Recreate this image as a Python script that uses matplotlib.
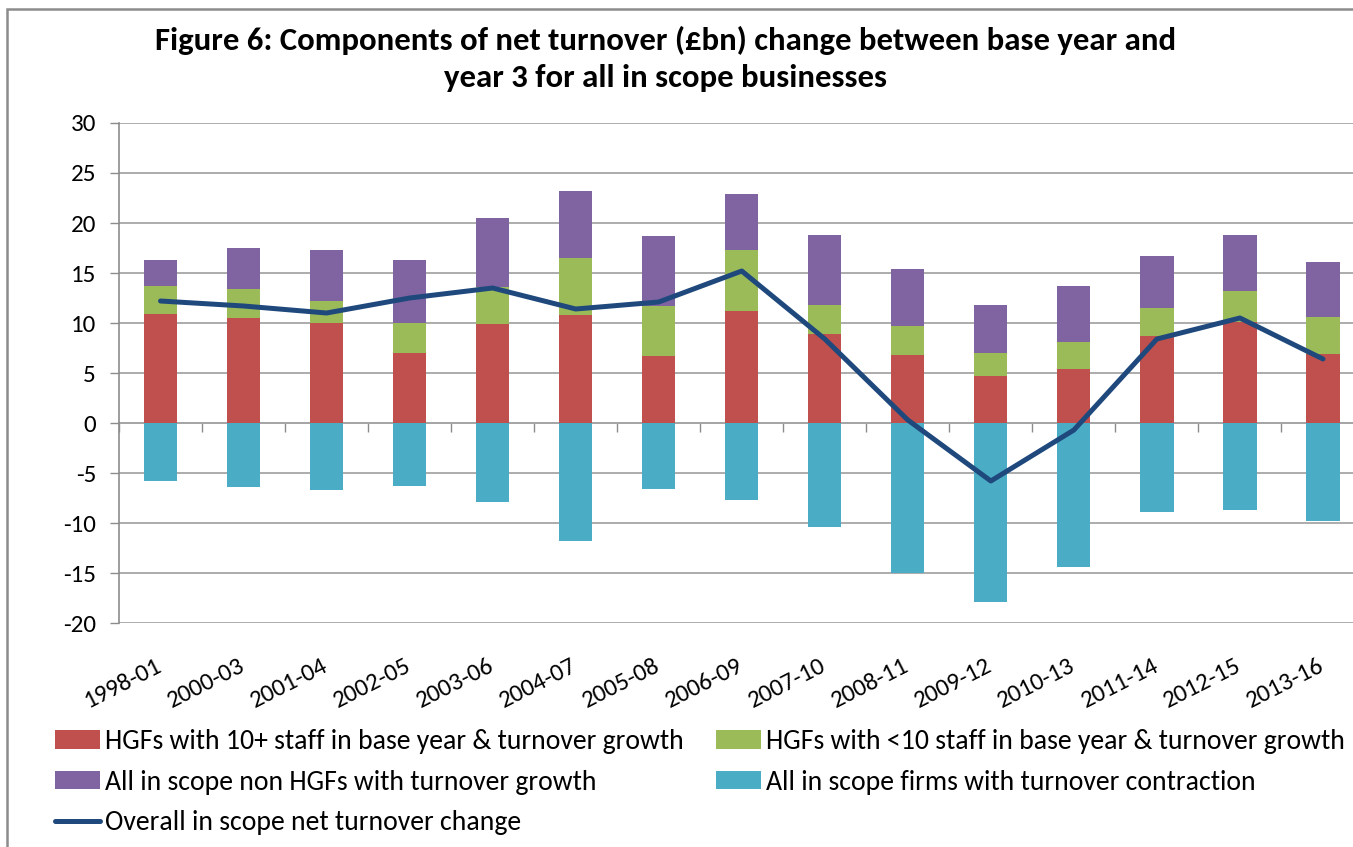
import matplotlib
matplotlib.use("Agg")
import matplotlib.pyplot as plt
from matplotlib.patches import Rectangle
import numpy as np

plt.rcParams['font.family'] = ['Carlito', 'Lato', 'DejaVu Sans']
plt.rcParams['axes.unicode_minus'] = False

periods = ["1998-01", "2000-03", "2001-04", "2002-05", "2003-06", "2004-07", "2005-08",
           "2006-09", "2007-10", "2008-11", "2009-12", "2010-13", "2011-14", "2012-15", "2013-16"]

# £bn
hgf_10plus = [10.9, 10.5, 10.0, 7.0, 9.9, 10.8, 6.7, 11.2, 8.9, 6.8, 4.7, 5.4, 8.7, 10.1, 6.9]
hgf_under10 = [2.8, 2.9, 2.2, 3.0, 3.7, 5.7, 5.0, 6.1, 2.9, 2.9, 2.3, 2.7, 2.8, 3.1, 3.7]
non_hgf_growth = [2.6, 4.1, 5.1, 6.3, 6.9, 6.7, 7.0, 5.6, 7.0, 5.7, 4.8, 5.6, 5.2, 5.6, 5.5]
contraction = [-5.8, -6.4, -6.7, -6.3, -7.9, -11.8, -6.6, -7.7, -10.4, -15.0, -17.9, -14.4, -8.9, -8.7, -9.8]
net_change = [12.2, 11.7, 11.0, 12.5, 13.5, 11.4, 12.1, 15.2, 8.4, 0.3, -5.8, -0.7, 8.4, 10.5, 6.4]

c_red = "#C0504D"
c_green = "#9BBB59"
c_purple = "#8064A2"
c_cyan = "#4BACC6"
c_line = "#1F497D"
c_grey = "#A6A6A6"

W, H = 1353, 847
fig = plt.figure(figsize=(W / 100, H / 100), dpi=100)
ax = fig.add_axes([119 / W, (H - 623) / H, (1364.5 - 119) / W, 500 / H])

x = np.arange(len(periods))
bw = 0.4
b1 = np.array(hgf_10plus)
b2 = b1 + np.array(hgf_under10)
h1 = ax.bar(x, hgf_10plus, bw, color=c_red, zorder=2)
h2 = ax.bar(x, hgf_under10, bw, bottom=b1, color=c_green, zorder=2)
h3 = ax.bar(x, non_hgf_growth, bw, bottom=b2, color=c_purple, zorder=2)
h4 = ax.bar(x, contraction, bw, color=c_cyan, zorder=2)
l1, = ax.plot(x, net_change, color=c_line, lw=3.6, zorder=4, solid_capstyle='round')

ax.set_xlim(-0.5, len(periods) - 0.5)
ax.set_ylim(-20, 30)
ax.set_yticks(np.arange(-20, 31, 5))
ax.yaxis.grid(True, color=c_grey, lw=1.3, zorder=0)
ax.set_axisbelow(True)
for s in ["top", "right", "bottom"]:
    ax.spines[s].set_visible(False)
ax.spines["left"].set_color("#8C8C8C")
ax.spines["left"].set_linewidth(1.2)
ax.tick_params(axis="y", length=6.5, width=1.0, color="#8C8C8C", labelsize=18, pad=10)

ax.set_xticks(x)
ax.set_xticklabels(periods, rotation=27, ha="right", va="center", rotation_mode="anchor")
ax.tick_params(axis="x", length=0, labelsize=18, pad=30)

# category axis drawn through zero
sec = ax.secondary_xaxis(0.4)
sec.set_xticks(np.arange(-0.5, len(periods), 1.0))
sec.set_xticklabels([])
sec.tick_params(length=6.5, width=1.0, color="#8C8C8C", direction="out")
sec.spines["bottom"].set_color(c_grey)
sec.spines["bottom"].set_linewidth(1.3)

fig.text(665.5 / W, 1 - 40 / H, "Figure 6: Components of net turnover (£bn) change between base year and",
         ha="center", va="center", fontsize=23.6, fontweight="bold")
fig.text(665.5 / W, 1 - 78 / H, "year 3 for all in scope businesses",
         ha="center", va="center", fontsize=23.6, fontweight="bold")

fig.patches.append(Rectangle((7 / W, -0.1), 1.2, (H - 9) / H + 0.1, transform=fig.transFigure,
                             fill=False, edgecolor="#8C8C8C", lw=1.8))

fig.legend([h1, h3, l1, h2, h4],
           ["HGFs with 10+ staff in base year & turnover growth",
            "All in scope non HGFs with turnover growth",
            "Overall in scope net turnover change",
            "HGFs with <10 staff in base year & turnover growth",
            "All in scope firms with turnover contraction"],
           ncol=2, loc="upper left", bbox_to_anchor=(55 / W, 1 - 729 / H),
           frameon=False, fontsize=20, borderpad=0, borderaxespad=0,
           handlelength=1.62, handleheight=0.65, handletextpad=0.18,
           labelspacing=0.56, columnspacing=1.15)

fig.savefig("out.png", dpi=100)
